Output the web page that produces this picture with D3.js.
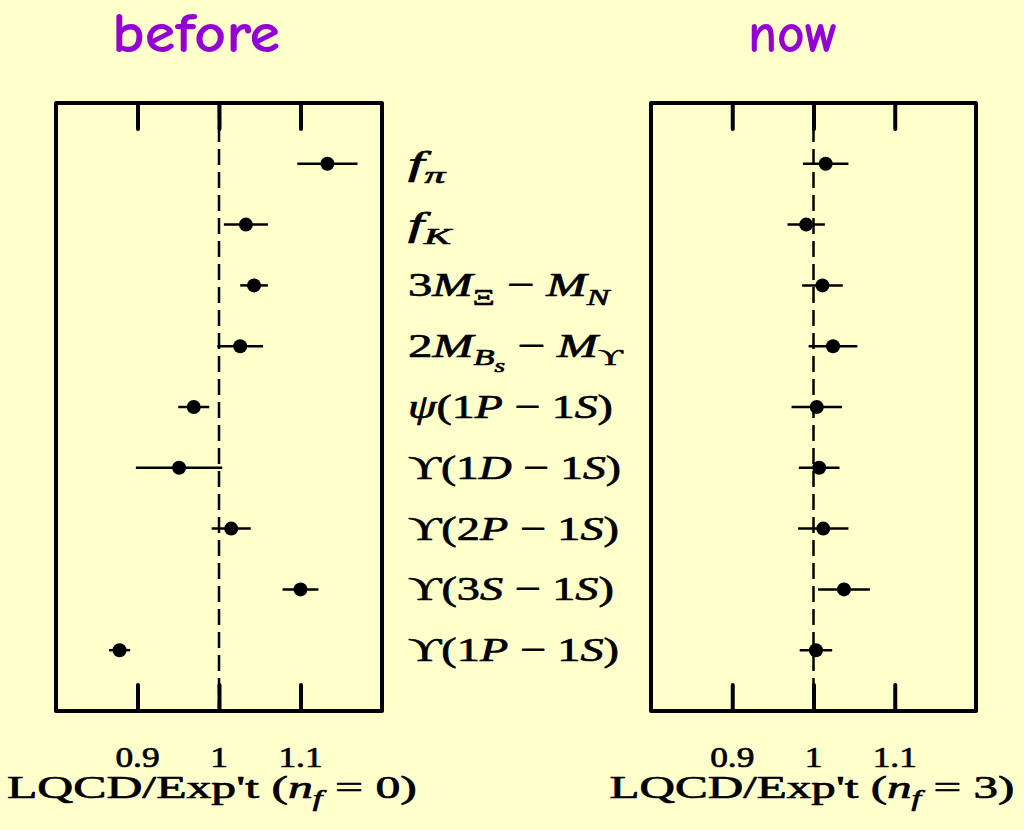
<!DOCTYPE html>
<html>
<head>
<meta charset="utf-8">
<script src="https://cdn.jsdelivr.net/npm/d3@7"></script>
<style>
  html, body { margin: 0; padding: 0; background: #ffffcc; }
  svg { display: block; }
</style>
</head>
<body>
<svg id="chart" width="1024" height="830"></svg>
<script>
// ---- data -----------------------------------------------------------
// Quantities, written in a small TeX-like markup: $...$ is math mode,
// _x / _{...} are subscripts.
const quantities = [
  "$f_π$",
  "$f_K$",
  "$3M_Ξ − M_N$",
  "$2M_{B_s} − M_ϒ$",
  "$ψ(1P − 1S)$",
  "$ϒ(1D − 1S)$",
  "$ϒ(2P − 1S)$",
  "$ϒ(3S − 1S)$",
  "$ϒ(1P − 1S)$"
];

// LQCD / experiment ratios, quenched (n_f = 0)
const beforeValues = [1.133, 1.033, 1.043, 1.026, 0.969, 0.951, 1.015, 1.100, 0.878];
const beforeErrors = [0.037, 0.027, 0.017, 0.028, 0.019, 0.053, 0.024, 0.022, 0.013];

// LQCD / experiment ratios, n_f = 3
const nowValues = [1.015, 0.991, 1.011, 1.024, 1.004, 1.007, 1.012, 1.0375, 1.003];
const nowErrors = [0.028, 0.023, 0.025, 0.030, 0.031, 0.025, 0.031, 0.032, 0.020];

const tickValues = [0.9, 1, 1.1];
const tickLabels = ["0.9", "1", "1.1"];

const panelTitles = ["before", "now"];
const axisTitles = ["LQCD/Exp't ($n_f = 0$)", "LQCD/Exp't ($n_f = 3$)"];

// ---- layout ---------------------------------------------------------
const frameTop = 103, frameBottom = 711;
const panels = [
  { x0: 56,  x1: 382, values: beforeValues, errors: beforeErrors,
    title: { x: 112, w: 168 }, axis: { cx: 212, w: 410 } },
  { x0: 651, x1: 976, values: nowValues, errors: nowErrors,
    title: { x: 748, w: 90 },  axis: { cx: 812, w: 405 } }
];
const rowLabelX = 408;
const rowLabelWidths = [39, 45, 203, 216, 205, 213, 211, 206, 211];
const serif = "'Liberation Serif', 'DejaVu Serif', serif";
const ink = "#000";

const svg = d3.select("#chart");
svg.append("rect").attr("width", 1024).attr("height", 830).attr("fill", "#ffffcc");

const y = d3.scalePoint().domain(quantities).range([frameTop, frameBottom]).padding(1);

// ---- mini TeX markup -> styled runs ---------------------------------
function parseTex(s) {
  let i = 0, math = false;
  const out = [];
  function atom(level) {
    const c = s[i];
    if (c === "{") { i++; group(level, true); return; }
    i++;
    out.push({ ch: c, italic: math && /[A-Za-zα-ω]/.test(c), level });
  }
  function group(level, braced) {
    while (i < s.length) {
      const c = s[i];
      if (braced && c === "}") { i++; return; }
      if (c === "$") { math = !math; i++; continue; }
      if (c === "_") { i++; atom(level + 1); continue; }
      atom(level);
    }
  }
  group(0, false);
  const runs = [];
  out.forEach(o => {
    const last = runs[runs.length - 1];
    if (last && last.italic === o.italic && last.level === o.level) last.text += o.ch;
    else runs.push({ text: o.ch, italic: o.italic, level: o.level });
  });
  return runs;
}

const sizeByLevel = [1, 0.7, 0.55];
const dropByLevel = [0, 0.24, 0.44];

function serifText(parent, size) {
  return parent.append("text")
    .attr("font-family", serif)
    .attr("font-size", size)
    .attr("fill", ink)
    .attr("stroke", ink)
    .attr("stroke-width", 0.7)
    .attr("stroke-linejoin", "round");
}

function texText(parent, str, size) {
  const t = serifText(parent, size);
  let cur = 0;
  parseTex(str).forEach(r => {
    const off = dropByLevel[r.level] * size;
    t.append("tspan")
      .attr("font-size", sizeByLevel[r.level] * size)
      .attr("font-style", r.italic ? "italic" : "normal")
      .attr("dy", off - cur)
      .text(r.text);
    cur = off;
  });
  return t;
}

// stretch a text horizontally to a given width; anchor "start" or "middle"
function fitWidth(g, text, x, baseline, width, anchor) {
  const b = text.node().getBBox();
  const s = width / b.width;
  const tx = anchor === "middle" ? x - (b.x + b.width / 2) * s : x - b.x * s;
  g.attr("transform", `translate(${tx},${baseline}) scale(${s},1)`);
}

// ---- panels ---------------------------------------------------------
panels.forEach((p, k) => {
  const x = d3.scaleLinear().domain([0.8, 1.2]).range([p.x0, p.x1]);
  const g = svg.append("g");

  // reference line at ratio 1
  g.append("line")
    .attr("x1", x(1)).attr("x2", x(1))
    .attr("y1", frameTop).attr("y2", frameBottom)
    .attr("stroke", ink).attr("stroke-width", 2.5)
    .attr("stroke-dasharray", "16,7");

  // inward ticks on top and bottom
  const axTop = d3.axisBottom(x).tickValues(tickValues).tickSize(26).tickSizeOuter(0).tickFormat("");
  const axBot = d3.axisTop(x).tickValues(tickValues).tickSize(26).tickSizeOuter(0).tickFormat("");
  [[axTop, frameTop], [axBot, frameBottom]].forEach(([ax, yy]) => {
    const a = g.append("g").attr("transform", `translate(0,${yy})`).call(ax);
    a.select(".domain").remove();
    a.selectAll(".tick line")
      .attr("stroke", ink).attr("stroke-width", 4).attr("stroke-linecap", "round");
  });

  // frame
  g.append("rect")
    .attr("x", p.x0).attr("y", frameTop)
    .attr("width", p.x1 - p.x0).attr("height", frameBottom - frameTop)
    .attr("fill", "none").attr("stroke", ink).attr("stroke-width", 4)
    .attr("stroke-linejoin", "round");

  // error bars and points
  g.selectAll(".err").data(quantities).join("line")
    .attr("class", "err")
    .attr("x1", (d, i) => x(p.values[i] - p.errors[i]))
    .attr("x2", (d, i) => x(p.values[i] + p.errors[i]))
    .attr("y1", d => y(d)).attr("y2", d => y(d))
    .attr("stroke", ink).attr("stroke-width", 2.5);
  g.selectAll(".pt").data(quantities).join("circle")
    .attr("class", "pt")
    .attr("cx", (d, i) => x(p.values[i]))
    .attr("cy", d => y(d))
    .attr("r", 7).attr("fill", ink);

  // tick labels
  tickValues.forEach((v, j) => {
    const lg = svg.append("g");
    const t = serifText(lg, 29).text(tickLabels[j]);
    const b = t.node().getBBox();
    const s = 1.22;
    lg.attr("transform", `translate(${x(v) - (b.x + b.width / 2) * s},767) scale(${s},1)`);
  });

  // axis title
  const ag = svg.append("g");
  const at = texText(ag, axisTitles[k], 32);
  fitWidth(ag, at, p.axis.cx, 798, p.axis.w, "middle");

  // panel title
  const tg = svg.append("g");
  const tt = tg.append("text")
    .attr("font-family", "'Comic Sans MS', 'Comic Neue', Lato, sans-serif")
    .attr("font-size", 56).attr("font-weight", 600).attr("fill", "#9400d3")
    .text(panelTitles[k]);
  fitWidth(tg, tt, p.title.x, 52, p.title.w, "start");
});

// ---- row labels between the panels ----------------------------------
quantities.forEach((q, i) => {
  const lg = svg.append("g");
  const t = texText(lg, q, 34);
  fitWidth(lg, t, rowLabelX, y(q) + 11, rowLabelWidths[i], "start");
});
</script>
</body>
</html>
